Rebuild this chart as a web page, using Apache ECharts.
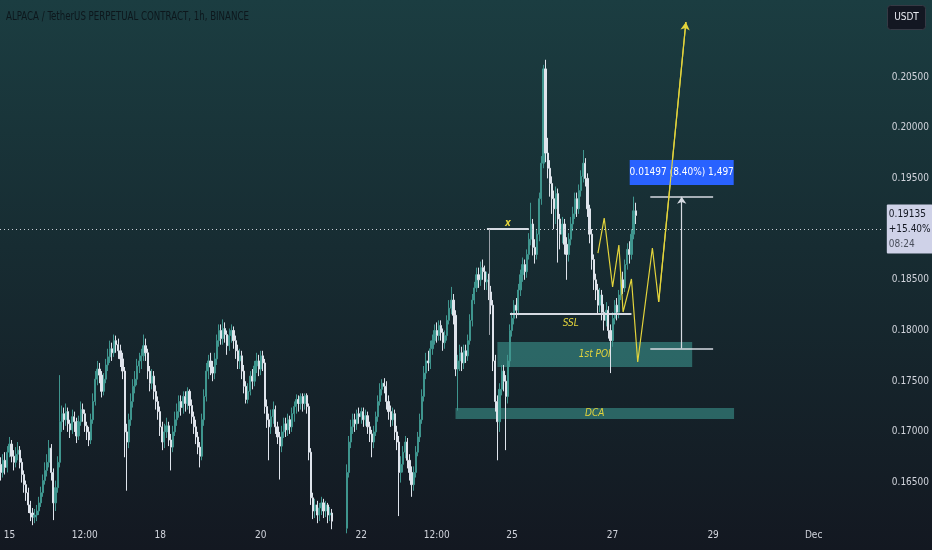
<!DOCTYPE html>
<html>
<head>
<meta charset="utf-8">
<title>ALPACA / TetherUS PERPETUAL CONTRACT, 1h, BINANCE</title>
<script src="https://cdn.jsdelivr.net/npm/echarts@6/dist/echarts.min.js"></script>
<style>
  html, body { margin: 0; padding: 0; background: #131821; }
  #chart { width: 932px; height: 550px; }
</style>
</head>
<body>
<div id="chart"></div>
<script>
// hourly candles, first one at Nov 14 20:00 (open of the first candle, then each open = previous close)
var firstOpen = 0.1668;
var closes = [
  0.1660,0.1672,0.1665,0.1680,0.1688,0.1676,0.1670,0.1678,0.1682,0.1670,
  0.1658,0.1648,0.1640,0.1628,0.1620,0.1616,0.1618,0.1622,0.1630,0.1640,
  0.1652,0.1662,0.1670,0.1684,0.1660,0.1630,0.1645,0.1670,0.1710,0.1718,
  0.1712,0.1720,0.1708,0.1702,0.1715,0.1710,0.1696,0.1710,0.1722,0.1718,
  0.1706,0.1700,0.1692,0.1712,0.1730,0.1752,0.1762,0.1756,0.1740,0.1752,
  0.1766,0.1774,0.1782,0.1778,0.1790,0.1786,0.1780,0.1772,0.1760,0.1700,
  0.1690,0.1712,0.1730,0.1745,0.1752,0.1765,0.1770,0.1775,0.1785,0.1778,
  0.1760,0.1748,0.1755,0.1740,0.1730,0.1720,0.1705,0.1690,0.1700,0.1706,
  0.1692,0.1685,0.1700,0.1712,0.1720,0.1730,0.1724,0.1735,0.1728,0.1740,
  0.1726,0.1715,0.1705,0.1695,0.1685,0.1676,0.1712,0.1735,0.1760,0.1770,
  0.1764,0.1758,0.1772,0.1790,0.1800,0.1792,0.1802,0.1796,0.1785,0.1795,
  0.1800,0.1790,0.1780,0.1770,0.1775,0.1760,0.1745,0.1732,0.1740,0.1755,
  0.1750,0.1765,0.1770,0.1762,0.1775,0.1768,0.1725,0.1712,0.1705,0.1715,
  0.1722,0.1705,0.1695,0.1686,0.1700,0.1708,0.1702,0.1712,0.1705,0.1718,
  0.1725,0.1732,0.1728,0.1735,0.1728,0.1736,0.1725,0.1680,0.1635,0.1622,
  0.1628,0.1618,0.1625,0.1630,0.1622,0.1628,0.1618,0.1620,0.1612,0.1605,
  0.1598,0.1602,0.1596,0.1600,0.1605,0.1660,0.1690,0.1705,0.1712,0.1708,
  0.1718,0.1715,0.1720,0.1712,0.1716,0.1705,0.1698,0.1690,0.1700,0.1715,
  0.1730,0.1742,0.1748,0.1745,0.1730,0.1720,0.1712,0.1718,0.1700,0.1690,
  0.1660,0.1668,0.1680,0.1690,0.1672,0.1660,0.1648,0.1660,0.1680,0.1695,
  0.1712,0.1735,0.1758,0.1770,0.1768,0.1782,0.1790,0.1800,0.1795,0.1805,
  0.1798,0.1788,0.1795,0.1810,0.1822,0.1830,0.1815,0.1762,0.1770,0.1778,
  0.1768,0.1780,0.1775,0.1790,0.1810,0.1830,0.1842,0.1855,0.1850,0.1862,
  0.1858,0.1848,0.1850,0.1838,0.1825,0.1770,0.1730,0.1710,0.1742,0.1760,
  0.1750,0.1735,0.1770,0.1800,0.1812,0.1825,0.1820,0.1840,0.1855,0.1865,
  0.1858,0.1875,0.1890,0.1905,0.1882,0.1875,0.1895,0.1930,0.1965,0.2058,
  0.1975,0.1960,0.1945,0.1930,0.1920,0.1935,0.1910,0.1895,0.1905,0.1885,
  0.1875,0.1890,0.1905,0.1915,0.1930,0.1920,0.1938,0.1952,0.1965,0.1950,
  0.1920,0.1895,0.1870,0.1850,0.1840,0.1825,0.1835,0.1818,0.1810,0.1820,
  0.1800,0.1790,0.1812,0.1825,0.1818,0.1835,0.1850,0.1842,0.1865,0.1880,
  0.1875,0.1895,0.1918,0.19135
];
var highs = [
  0.1675,0.1678,0.1680,0.1686,0.1695,0.1692,0.1682,0.1685,0.1690,0.1686,
  0.1674,0.1662,0.1652,0.1645,0.1632,0.1625,0.1624,0.1628,0.1636,0.1646,
  0.1658,0.1670,0.1678,0.1692,0.1688,0.1664,0.1652,0.1676,0.1756,0.1726,
  0.1724,0.1728,0.1724,0.1712,0.1722,0.1720,0.1714,0.1716,0.1730,0.1728,
  0.1722,0.1710,0.1705,0.1718,0.1738,0.1760,0.1770,0.1768,0.1760,0.1758,
  0.1772,0.1782,0.1790,0.1788,0.1796,0.1795,0.1792,0.1786,0.1778,0.1764,
  0.1708,0.1718,0.1738,0.1752,0.1760,0.1772,0.1778,0.1782,0.1796,0.1792,
  0.1782,0.1765,0.1762,0.1760,0.1746,0.1735,0.1725,0.1710,0.1708,0.1714,
  0.1710,0.1698,0.1706,0.1720,0.1728,0.1736,0.1736,0.1740,0.1740,0.1744,
  0.1742,0.1732,0.1720,0.1712,0.1700,0.1690,0.1718,0.1742,0.1768,0.1776,
  0.1778,0.1770,0.1778,0.1796,0.1806,0.1806,0.1811,0.1808,0.1800,0.1802,
  0.1806,0.1804,0.1795,0.1786,0.1782,0.1780,0.1766,0.1750,0.1748,0.1760,
  0.1762,0.1770,0.1778,0.1776,0.1780,0.1780,0.1772,0.1732,0.1718,0.1722,
  0.1730,0.1726,0.1710,0.1700,0.1706,0.1714,0.1714,0.1718,0.1716,0.1724,
  0.1730,0.1737,0.1736,0.1738,0.1738,0.1738,0.1738,0.1728,0.1684,0.1640,
  0.1634,0.1632,0.1630,0.1636,0.1634,0.1632,0.1630,0.1626,0.1624,0.1612,
  0.1608,0.1608,0.1606,0.1605,0.1610,0.1668,0.1696,0.1712,0.1718,0.1718,
  0.1722,0.1724,0.1724,0.1724,0.1722,0.1720,0.1710,0.1702,0.1706,0.1720,
  0.1736,0.1748,0.1752,0.1753,0.1750,0.1736,0.1726,0.1724,0.1722,0.1706,
  0.1696,0.1676,0.1686,0.1696,0.1694,0.1678,0.1666,0.1666,0.1686,0.1700,
  0.1718,0.1742,0.1765,0.1778,0.1780,0.1790,0.1796,0.1806,0.1808,0.1810,
  0.1810,0.1802,0.1800,0.1815,0.1830,0.1843,0.1836,0.1820,0.1776,0.1786,
  0.1784,0.1786,0.1786,0.1796,0.1816,0.1836,0.1848,0.1862,0.1862,0.1868,
  0.1870,0.1864,0.1858,0.1856,0.1844,0.1830,0.1776,0.1736,0.1748,0.1766,
  0.1766,0.1756,0.1776,0.1806,0.1818,0.1830,0.1832,0.1846,0.1860,0.1872,
  0.1870,0.1880,0.1896,0.1926,0.1910,0.1890,0.1900,0.1936,0.1972,0.2062,
  0.2067,0.1990,0.1968,0.1952,0.1938,0.1942,0.1940,0.1915,0.1912,0.1910,
  0.1892,0.1896,0.1912,0.1922,0.1936,0.1936,0.1944,0.1958,0.1978,0.1970,
  0.1955,0.1924,0.1900,0.1875,0.1856,0.1846,0.1842,0.1840,0.1826,0.1828,
  0.1824,0.1806,0.1818,0.1830,0.1832,0.1840,0.1856,0.1858,0.1870,0.1886,
  0.1888,0.1900,0.1932,0.1926
];
var lows = [
  0.1652,0.1655,0.1658,0.1660,0.1675,0.1670,0.1662,0.1665,0.1672,0.1664,
  0.1650,0.1640,0.1632,0.1620,0.1612,0.1608,0.1610,0.1612,0.1618,0.1626,
  0.1636,0.1648,0.1656,0.1665,0.1652,0.1613,0.1622,0.1640,0.1665,0.1700,
  0.1702,0.1706,0.1700,0.1694,0.1698,0.1700,0.1689,0.1692,0.1706,0.1710,
  0.1700,0.1692,0.1686,0.1688,0.1708,0.1726,0.1746,0.1748,0.1734,0.1736,
  0.1748,0.1760,0.1768,0.1770,0.1774,0.1778,0.1772,0.1764,0.1752,0.1675,
  0.1642,0.1684,0.1706,0.1724,0.1738,0.1746,0.1758,0.1762,0.1770,0.1770,
  0.1752,0.1740,0.1742,0.1732,0.1722,0.1712,0.1696,0.1682,0.1684,0.1694,
  0.1686,0.1662,0.1680,0.1696,0.1706,0.1714,0.1716,0.1718,0.1720,0.1722,
  0.1718,0.1708,0.1698,0.1688,0.1678,0.1665,0.1672,0.1706,0.1730,0.1752,
  0.1756,0.1750,0.1752,0.1766,0.1784,0.1786,0.1786,0.1788,0.1776,0.1780,
  0.1788,0.1782,0.1772,0.1762,0.1762,0.1752,0.1738,0.1728,0.1728,0.1736,
  0.1742,0.1745,0.1758,0.1755,0.1756,0.1760,0.1718,0.1704,0.1672,0.1698,
  0.1708,0.1698,0.1688,0.1653,0.1680,0.1694,0.1695,0.1696,0.1698,0.1700,
  0.1710,0.1718,0.1720,0.1722,0.1720,0.1722,0.1718,0.1672,0.1628,0.1614,
  0.1615,0.1610,0.1612,0.1618,0.1615,0.1616,0.1610,0.1612,0.1604,0.1596,
  0.1590,0.1592,0.1588,0.1590,0.1594,0.1600,0.1655,0.1684,0.1698,0.1700,
  0.1702,0.1708,0.1708,0.1705,0.1706,0.1698,0.1690,0.1675,0.1684,0.1696,
  0.1710,0.1726,0.1736,0.1738,0.1722,0.1712,0.1705,0.1706,0.1692,0.1682,
  0.1617,0.1650,0.1660,0.1674,0.1664,0.1652,0.1636,0.1642,0.1655,0.1676,
  0.1690,0.1708,0.1730,0.1752,0.1760,0.1762,0.1776,0.1786,0.1788,0.1790,
  0.1790,0.1780,0.1782,0.1790,0.1806,0.1816,0.1806,0.1755,0.1721,0.1760,
  0.1760,0.1762,0.1768,0.1770,0.1786,0.1804,0.1826,0.1838,0.1842,0.1844,
  0.1850,0.1840,0.1840,0.1830,0.1816,0.1760,0.1720,0.1672,0.1700,0.1736,
  0.1740,0.1682,0.1728,0.1764,0.1794,0.1806,0.1812,0.1815,0.1834,0.1848,
  0.1850,0.1852,0.1870,0.1884,0.1874,0.1866,0.1870,0.1888,0.1924,0.1960,
  0.1966,0.1950,0.1932,0.1915,0.1900,0.1905,0.1867,0.1880,0.1886,0.1875,
  0.1850,0.1868,0.1884,0.1898,0.1910,0.1912,0.1915,0.1932,0.1946,0.1942,
  0.1912,0.1886,0.1860,0.1840,0.1830,0.1816,0.1818,0.1810,0.1800,0.1804,
  0.1792,0.1758,0.1784,0.1806,0.1810,0.1812,0.1830,0.1836,0.1838,0.1860,
  0.1866,0.1870,0.1890,0.1905
];

// axis ticks
var priceTicks = [0.165, 0.170, 0.175, 0.180, 0.185, 0.195, 0.200, 0.205];
var timeTicks = {
  '11-15 00:00': '15', '11-16 12:00': '12:00', '11-18 00:00': '18', '11-20 00:00': '20',
  '11-22 00:00': '22', '11-23 12:00': '12:00', '11-25 00:00': '25', '11-27 00:00': '27',
  '11-29 00:00': '29', '12-01 00:00': 'Dec'
};

// last price box
var lastPrice = 0.19135;
var lastChange = '+15.40%';
var countdown = '08:24';

// drawings
var zigzag = [
  ['11-26 17:00', 0.18764], ['11-26 20:00', 0.19109], ['11-27 00:00', 0.18429],
  ['11-27 03:00', 0.18843], ['11-27 05:00', 0.18182], ['11-27 09:00', 0.18508],
  ['11-27 12:00', 0.17689], ['11-27 19:00', 0.18814], ['11-27 22:00', 0.18281],
  ['11-28 11:00', 0.21042]
];
var xLevel = { from: '11-24 12:00', to: '11-25 08:00', price: 0.1900, drop: '11-24 13:00', dropTo: 0.17956 };
var xText = ['11-24 22:00', 0.19060];
var sslLevel = { from: '11-24 23:00', to: '11-27 09:00', price: 0.18163 };
var sslText = ['11-26 04:00', 0.18074];
var poiZone = { from: '11-24 17:00', to: '11-28 14:00', top: 0.17887, bottom: 0.17640 };
var dcaZone = { from: '11-23 21:00', to: '11-29 10:00', top: 0.17236, bottom: 0.17127 };
var measure = { from: '11-27 18:00', to: '11-29 00:00', at: '11-28 09:00', low: 0.17822, high: 0.19319 };
var measureText = '0.01497 (8.40%) 1,497';
var measureTextPrice = 0.19558;

function pad(n) { return (n < 10 ? '0' : '') + n; }

var categories = [];
var t0 = Date.UTC(2023, 10, 14, 20);
for (var k = 0; k < 422; k++) {
  var d = new Date(t0 + k * 3600000);
  categories.push(pad(d.getUTCMonth() + 1) + '-' + pad(d.getUTCDate()) + ' ' + pad(d.getUTCHours()) + ':00');
}

var candles = closes.map(function (c, i) {
  var o = i === 0 ? firstOpen : closes[i - 1];
  return [o, c, Math.min(lows[i], o, c), Math.max(highs[i], o, c)];
});

var FONT = "'DejaVu Sans Condensed', 'Roboto', sans-serif";
var YELLOW = '#e3d43c';
var WHITE = '#d6dae2';

function seg(a, b, extra) {
  var s = [{ coord: a }, { coord: b }];
  if (extra) s[0] = Object.assign(s[0], extra);
  return s;
}

var dom = document.getElementById('chart');
var chart = echarts.init(dom);

chart.setOption({
  animation: false,
  backgroundColor: {
    type: 'linear', x: 0, y: 0, x2: 0, y2: 1,
    colorStops: [
      { offset: 0, color: '#1b3d41' },
      { offset: 0.45, color: '#172c32' },
      { offset: 1, color: '#131821' }
    ]
  },
  textStyle: { fontFamily: FONT },
  grid: { left: 0, right: 47, top: 0, bottom: 30 },
  xAxis: {
    type: 'category',
    data: categories,
    boundaryGap: true,
    axisLine: { show: false },
    axisTick: { show: false },
    splitLine: { show: false },
    axisLabel: {
      color: '#d1d4dc', fontSize: 10, fontFamily: FONT, margin: 10,
      interval: function (index, value) { return timeTicks[value] !== undefined; },
      formatter: function (value) { return timeTicks[value] || ''; }
    }
  },
  yAxis: {
    type: 'value',
    position: 'right',
    min: 0.161312,
    max: 0.212594,
    axisLine: { show: false },
    axisTick: { show: false },
    splitLine: { show: false },
    axisLabel: {
      color: '#d1d4dc', fontSize: 10, fontFamily: FONT, margin: 8,
      customValues: priceTicks,
      formatter: function (v) { return v.toFixed(5); }
    }
  },
  graphic: [
    {
      type: 'text', x: 6, y: 11, scaleX: 0.8, z: 10,
      style: { text: 'ALPACA / TetherUS PERPETUAL CONTRACT, 1h, BINANCE', fill: '#0d171c', font: '12px ' + FONT }
    },
    {
      type: 'group', right: 6, top: 5,
      children: [
        { type: 'rect', shape: { x: 0, y: 0, width: 38, height: 24, r: 3 },
          style: { fill: '#131722', stroke: '#363a45', lineWidth: 1 } },
        { type: 'text', x: 19, y: 12,
          style: { text: 'USDT', fill: '#e8eaf0', font: '10px ' + FONT, textAlign: 'center', textVerticalAlign: 'middle' } }
      ]
    }
  ],
  series: [
    {
      type: 'candlestick',
      data: candles,
      barWidth: '80%',
      z: 2,
      itemStyle: {
        color: '#3f958e', color0: '#dfe4ec',
        borderColor: '#3f958e', borderColor0: '#dfe4ec', borderWidth: 1
      },
      markLine: {
        silent: true,
        symbol: ['none', 'none'],
        lineStyle: { color: '#c9ced6', type: [1, 3], width: 1 },
        label: {
          show: true, position: 'end', distance: 3, offset: [0, 0],
          formatter: '{a|' + lastPrice.toFixed(5) + '}\n{b|' + lastChange + '}\n{c|' + countdown + '}',
          backgroundColor: '#cfd2e8', padding: [2, 2, 2, 2], borderRadius: 1,
          rich: {
            a: { color: '#131722', fontSize: 10, lineHeight: 15, fontFamily: FONT },
            b: { color: '#131722', fontSize: 10, lineHeight: 15, fontFamily: FONT },
            c: { color: '#4a4f5c', fontSize: 10, lineHeight: 15, fontFamily: FONT }
          }
        },
        data: [{ yAxis: lastPrice }]
      }
    },
    {
      type: 'line',
      data: zigzag,
      z: 5,
      symbol: 'none',
      lineStyle: { color: YELLOW, width: 1.2 },
      markArea: {
        silent: true,
        itemStyle: { color: 'rgba(70, 175, 166, 0.48)' },
        label: {
          show: true, position: 'inside', formatter: '{b}',
          color: YELLOW, fontSize: 10, fontStyle: 'italic', fontFamily: FONT
        },
        data: [
          [{ name: '1st POI', coord: [poiZone.from, poiZone.top] }, { coord: [poiZone.to, poiZone.bottom] }],
          [{ name: 'DCA', coord: [dcaZone.from, dcaZone.top] }, { coord: [dcaZone.to, dcaZone.bottom] }]
        ]
      },
      markLine: {
        silent: true,
        symbol: ['none', 'none'],
        label: { show: false },
        lineStyle: { color: WHITE, width: 2, type: 'solid' },
        data: [
          seg([xLevel.from, xLevel.price], [xLevel.to, xLevel.price]),
          seg([xLevel.drop, xLevel.price], [xLevel.drop, xLevel.dropTo], { lineStyle: { color: '#9aa0a8', width: 1 } }),
          seg([sslLevel.from, sslLevel.price], [sslLevel.to, sslLevel.price]),
          seg([measure.from, measure.low], [measure.to, measure.low], { lineStyle: { color: WHITE, width: 1.5 } }),
          seg([measure.from, measure.high], [measure.to, measure.high], { lineStyle: { color: WHITE, width: 1.5 } }),
          [{ coord: [measure.at, measure.low], symbol: 'none', lineStyle: { color: WHITE, width: 1.2 } },
           { coord: [measure.at, measure.high], symbol: 'arrow', symbolSize: [7, 7] }],
          [{ coord: zigzag[zigzag.length - 2], symbol: 'none', lineStyle: { color: YELLOW, width: 1.2 } },
           { coord: zigzag[zigzag.length - 1], symbol: 'arrow', symbolSize: [7, 8] }]
        ]
      },
      markPoint: {
        silent: true,
        data: [
          { name: 'x', coord: xText, symbol: 'rect', symbolSize: [1, 1], itemStyle: { color: 'rgba(0,0,0,0)' },
            label: { show: true, position: 'inside', formatter: '{b}', color: YELLOW, fontSize: 10, fontStyle: 'italic', fontWeight: 'bold', fontFamily: FONT } },
          { name: 'SSL', coord: sslText, symbol: 'rect', symbolSize: [1, 1], itemStyle: { color: 'rgba(0,0,0,0)' },
            label: { show: true, position: 'inside', formatter: '{b}', color: YELLOW, fontSize: 10, fontStyle: 'italic', fontFamily: FONT } },
          { name: measureText, coord: [measure.at, measureTextPrice], symbol: 'rect', symbolSize: [104, 25],
            itemStyle: { color: '#2962ff' },
            label: { show: true, position: 'inside', formatter: '{b}', color: '#ffffff', fontSize: 10, fontFamily: FONT } }
        ]
      }
    }
  ]
});

window.addEventListener('resize', function () { chart.resize(); });
</script>
</body>
</html>
